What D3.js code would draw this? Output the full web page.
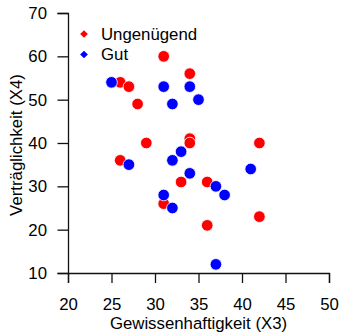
<!DOCTYPE html>
<html>
<head>
<meta charset="utf-8">
<script src="https://cdn.jsdelivr.net/npm/d3@7"></script>
<style>
  body { margin: 0; background: #fff; }
  svg { font-family: "Liberation Sans", Arial, sans-serif; }
</style>
</head>
<body>
<div id="chart"></div>
<script>
// Gewissenhaftigkeit (X3) / Verträglichkeit (X4)
const redX = [31, 34, 26, 27, 28, 29, 34, 34, 42, 26, 33, 36, 31, 42, 36];
const redY = [60, 56, 54, 53, 49, 40, 41, 40, 40, 36, 31, 31, 26, 23, 21];
const blueX = [25, 31, 34, 32, 35, 33, 32, 27, 34, 41, 37, 38, 31, 32, 37];
const blueY = [54, 53, 53, 49, 50, 38, 36, 35, 33, 34, 30, 28, 28, 25, 12];
const xTicks = [20, 25, 30, 35, 40, 45, 50];
const yTicks = [10, 20, 30, 40, 50, 60, 70];
const groups = [
  { name: "Ungenügend", color: "#ff0000", xs: redX, ys: redY },
  { name: "Gut", color: "#0000ff", xs: blueX, ys: blueY }
];

const W = 343, H = 335;
const margin = { top: 13, right: 14, bottom: 62, left: 68 };
const fs = "16.8px";

const svg = d3.select("#chart").append("svg")
  .attr("width", W)
  .attr("height", H);

const x = d3.scaleLinear().domain([20, 50]).range([margin.left, W - margin.right]);
const y = d3.scaleLinear().domain([10, 70]).range([H - margin.bottom, margin.top]);

// X axis
const gx = svg.append("g")
  .attr("transform", `translate(0,${H - margin.bottom})`)
  .call(d3.axisBottom(x).tickValues(xTicks).tickSize(10).tickPadding(15));
gx.select(".domain").attr("stroke", "#111").attr("stroke-width", 1.3);
gx.selectAll(".tick line").attr("stroke", "#111").attr("stroke-width", 1.3);
gx.selectAll("text").attr("font-size", fs).attr("fill", "#000")
  .attr("font-family", "Liberation Sans, Arial, sans-serif");

// Y axis
const gy = svg.append("g")
  .attr("transform", `translate(${margin.left},0)`)
  .call(d3.axisLeft(y).tickValues(yTicks).tickSize(10.5).tickPadding(10.5));
gy.select(".domain").attr("stroke", "#111").attr("stroke-width", 1.3);
gy.selectAll(".tick line").attr("stroke", "#111").attr("stroke-width", 1.3);
gy.selectAll("text").attr("font-size", fs).attr("fill", "#000")
  .attr("font-family", "Liberation Sans, Arial, sans-serif");

// axis titles
svg.append("text")
  .attr("x", (x.range()[0] + x.range()[1]) / 2)
  .attr("y", 329)
  .attr("text-anchor", "middle")
  .attr("font-size", fs)
  .text("Gewissenhaftigkeit (X3)");

svg.append("text")
  .attr("transform", `translate(22,145) rotate(-90)`)
  .attr("text-anchor", "middle")
  .attr("font-size", fs)
  .text("Verträglichkeit (X4)");

// points
groups.forEach(g => {
  svg.append("g").selectAll("circle")
    .data(g.xs.map((v, i) => [v, g.ys[i]]))
    .join("circle")
    .attr("cx", d => x(d[0]))
    .attr("cy", d => y(d[1]))
    .attr("r", 5.8)
    .attr("fill", g.color)
    .attr("stroke", "#fff")
    .attr("stroke-width", 0.8);
});

// legend
const legend = svg.append("g").attr("transform", "translate(84,34)");
groups.forEach((g, i) => {
  const row = legend.append("g").attr("transform", `translate(0,${i * 20.5})`);
  row.append("path")
    .attr("d", d3.symbol().type(d3.symbolSquare).size(30)())
    .attr("transform", "rotate(45)")
    .attr("fill", g.color);
  row.append("text")
    .attr("x", 17)
    .attr("y", 5.8)
    .attr("font-size", fs)
    .text(g.name);
});
</script>
</body>
</html>
